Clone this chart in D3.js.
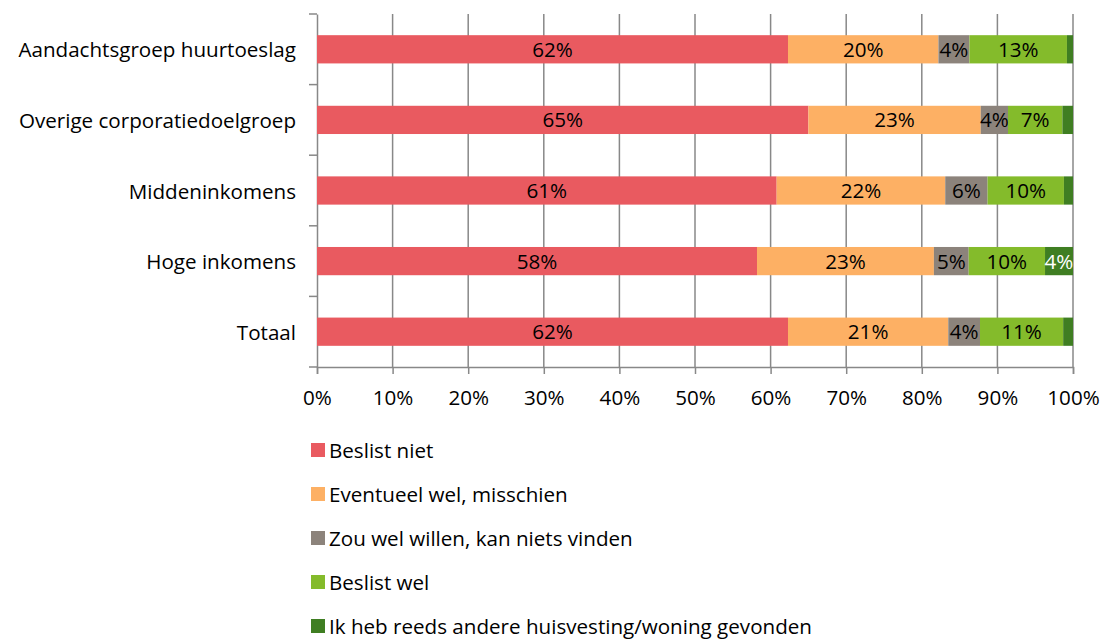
<!DOCTYPE html>
<html><head><meta charset="utf-8">
<script src="https://cdn.jsdelivr.net/npm/d3@7"></script>
<style>body{margin:0;background:#fff}svg{display:block}text{font-family:"Open Sans",sans-serif}</style>
</head><body><svg id="c" width="1101" height="641"></svg>
<script>
const categories = ["Aandachtsgroep huurtoeslag","Overige corporatiedoelgroep","Middeninkomens","Hoge inkomens","Totaal"];
const seriesNames = ["Beslist niet","Eventueel wel, misschien","Zou wel willen, kan niets vinden","Beslist wel","Ik heb reeds andere huisvesting/woning gevonden"];
const beslistNiet   = [62.3, 65.0, 60.8, 58.2, 62.3];
const eventueelWel  = [19.9, 22.8, 22.3, 23.4, 21.2];
const zouWelWillen  = [4.1, 3.6, 5.6, 4.6, 4.2];
const beslistWel    = [12.9, 7.2, 10.1, 10.1, 11.0];
const reedsGevonden = [0.8, 1.4, 1.2, 3.7, 1.3];
const xTicks = [0,10,20,30,40,50,60,70,80,90,100];
const colors = ["#E95A60","#FDB064","#8C837B","#84BB2B","#3F7E22"];

const FS = 20.6;
const series = [beslistNiet, eventueelWel, zouWelWillen, beslistWel, reedsGevonden];
const svg = d3.select("#c");
const x = d3.scaleLinear().domain([0,100]).range([317,1073]);
const y = d3.scaleBand().domain(categories).range([14,367]).paddingInner(0.6).paddingOuter(0.3);
const grid = "#888";

svg.append("g").selectAll("line").data(xTicks.slice(1)).join("line")
  .attr("x1",d=>x(d)).attr("x2",d=>x(d)).attr("y1",14).attr("y2",367)
  .attr("stroke",grid).attr("stroke-width",1.5);

const xa = svg.append("g").attr("transform","translate(0,367)")
  .call(d3.axisBottom(x).tickValues(xTicks).tickFormat(d=>d+"%").tickSize(7));
xa.select(".domain").attr("stroke",grid).attr("stroke-width",1.5);
xa.selectAll(".tick line").attr("stroke",grid).attr("stroke-width",1.5);
xa.selectAll("text").attr("font-size",FS).attr("fill","#000").attr("font-family","Open Sans")
  .attr("dy",null).attr("y",38);

const bandStep = (367-14)/categories.length;
const ya = svg.append("g").attr("transform","translate(317,0)")
  .call(d3.axisLeft(y).tickSize(0).tickPadding(21));
ya.select(".domain").attr("stroke",grid).attr("stroke-width",1.5);
ya.selectAll("text").attr("font-size",FS).attr("fill","#000").attr("font-family","Open Sans")
  .attr("dy",null).attr("y",8);
svg.append("g").selectAll("line").data(d3.range(categories.length+1)).join("line")
  .attr("x1",309).attr("x2",317).attr("y1",i=>14+i*bandStep).attr("y2",i=>14+i*bandStep)
  .attr("stroke",grid).attr("stroke-width",1.5);

categories.forEach((cat,ci)=>{
  let acc = 0;
  series.forEach((s,si)=>{
    const v = s[ci];
    const x0 = x(acc), x1 = x(acc+v);
    svg.append("rect").attr("x",x0).attr("y",y(cat)).attr("width",x1-x0).attr("height",y.bandwidth())
      .attr("fill",colors[si]);
    if (v >= 3) {
      svg.append("text").attr("x",(x0+x1)/2).attr("y",y(cat)+y.bandwidth()/2+7.5)
        .attr("text-anchor","middle")
        .attr("font-size",FS).attr("fill", si===4 ? "#fff" : "#000")
        .text(Math.round(v)+"%");
    }
    acc += v;
  });
});

const lg = svg.append("g");
seriesNames.forEach((n,i)=>{
  const cy = 450 + i*44;
  lg.append("rect").attr("x",311).attr("y",cy-7).attr("width",14).attr("height",14).attr("fill",colors[i]);
  lg.append("text").attr("x",329).attr("y",cy+7.5)
    .attr("font-size",FS).attr("fill","#000").text(n);
});
</script></body></html>
